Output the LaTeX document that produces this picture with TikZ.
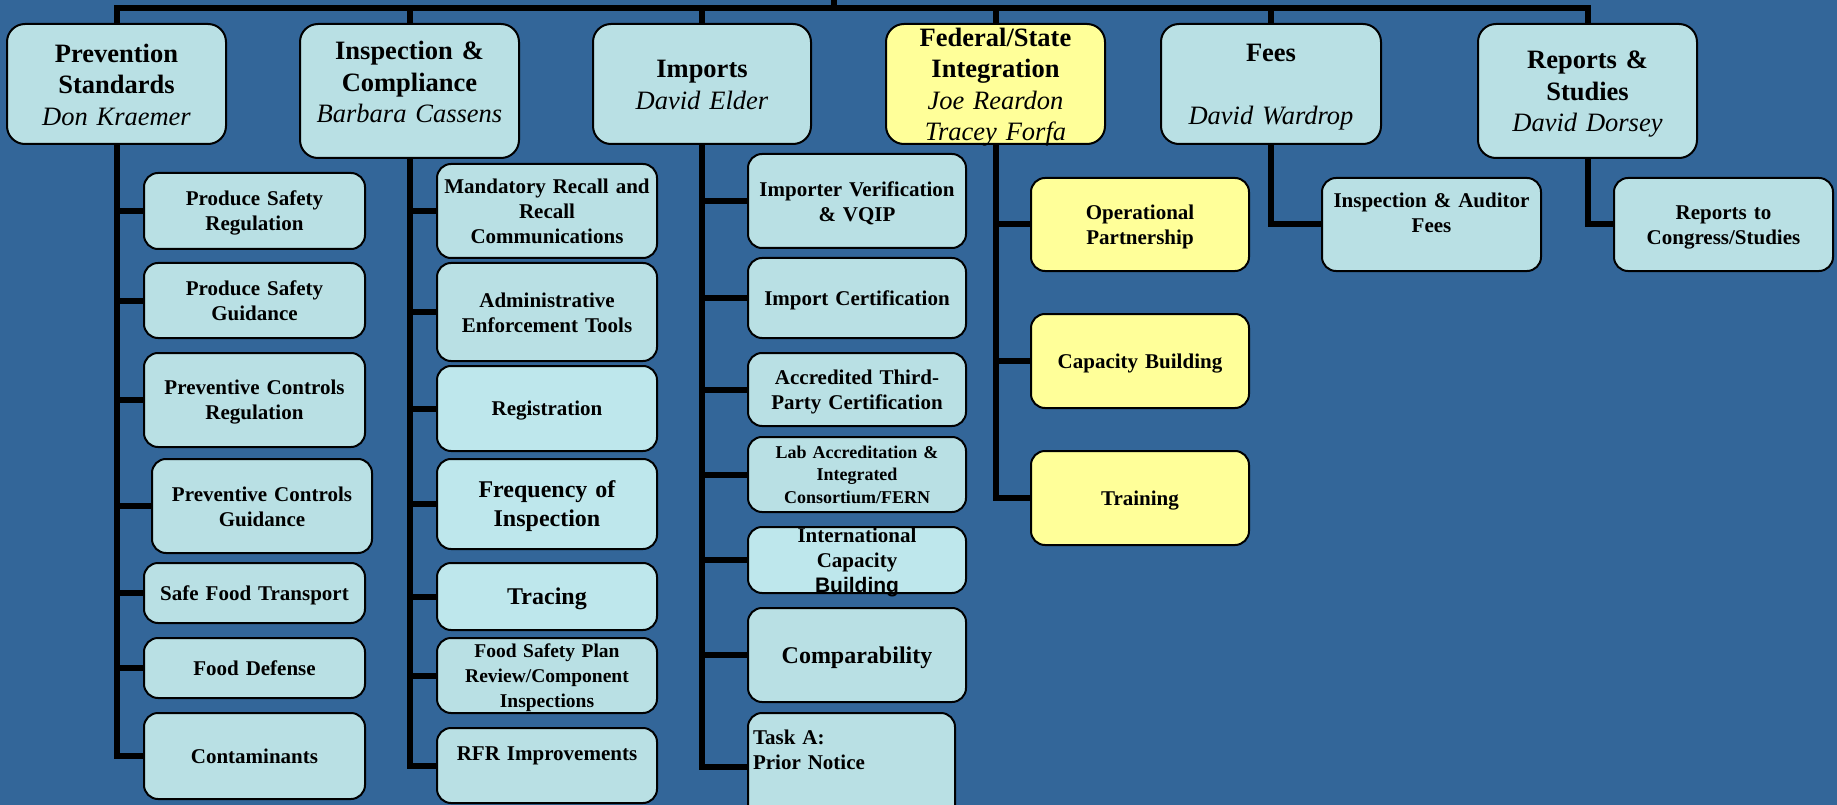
\documentclass[tikz,border=0pt]{standalone}
\usepackage{fontspec}
\setmainfont{Liberation Serif}
\newfontfamily\arialfont{Liberation Sans}
\definecolor{bgblue}{HTML}{336699}
\definecolor{boxblue}{HTML}{B9E0E4}
\definecolor{boxlite}{HTML}{BEE7EC}
\definecolor{boxyellow}{HTML}{FFFF99}

\begin{document}
\begin{tikzpicture}[x=1pt,y=-1pt,
        box/.style={draw, line width=2pt, inner sep=0pt, text width=210pt, align=center,
                        execute at begin node={\rule{0pt}{0.92em}},
                        execute at end node={\rule[-0.2em]{0pt}{0pt}}},
        head/.style={box, rounded corners=18pt, fill=boxblue,
                        font=\fontsize{26.5}{31.5}\selectfont},
        sub/.style={box, rounded corners=14pt, fill=boxblue,
                        font=\fontsize{21}{25}\selectfont\bfseries},
        big/.style={font=\fontsize{24}{29}\selectfont\bfseries},
        conn/.style={line width=6pt}]
    \fill[bgblue] (0,0) rectangle (1837,805);
    \useasboundingbox (0,0) rectangle (1837,805);

    % top row
    \node[head, minimum width=219pt, minimum height=120pt] (prev) at (116.5,84)
        {\textbf{Prevention}\\\textbf{Standards}\\\textit{Don Kraemer}};
    \node[head, minimum width=219pt, minimum height=134pt] (insp) at (409.5,91)
        {\textbf{Inspection \&}\\\textbf{Compliance}\\\textit{Barbara Cassens}\\[-13.4pt]\mbox{}};
    \node[head, minimum width=218pt, minimum height=120pt] (imp) at (702,84)
        {\textbf{Imports}\\\textit{David Elder}};
    \node[head, fill=boxyellow, minimum width=219pt, minimum height=120pt, inner ysep=-6pt] (fed) at (995.5,84)
        {\textbf{Federal/State}\\\textbf{Integration}\\\textit{Joe Reardon}\\\textit{Tracey Forfa}};
    \node[head, minimum width=220pt, minimum height=120pt] (fees) at (1271,84)
        {\textbf{Fees}\\[31.5pt]\textit{David Wardrop}};
    \node[head, minimum width=219pt, minimum height=134pt] (rep) at (1587.5,91)
        {\textbf{Reports \&}\\\textbf{Studies}\\\textit{David Dorsey}};

    % prevention standards
    \node[sub, minimum width=221pt, minimum height=76pt] (psr) at (254.5,211) {Produce Safety\\Regulation};
    \node[sub, minimum width=221pt, minimum height=75pt] (psg) at (254.5,300.5) {Produce Safety\\Guidance};
    \node[sub, minimum width=221pt, minimum height=94pt] (pcr) at (254.5,400) {Preventive Controls\\Regulation};
    \node[sub, minimum width=220pt, minimum height=94pt] (pcg) at (262,506) {Preventive Controls\\Guidance};
    \node[sub, minimum width=221pt, minimum height=60pt] (sft) at (254.5,593) {Safe Food Transport};
    \node[sub, minimum width=221pt, minimum height=60pt] (fdef) at (254.5,668) {Food Defense};
    \node[sub, minimum width=221pt, minimum height=86pt] (cont) at (254.5,756) {Contaminants};

    % inspection & compliance
    \node[sub, minimum width=220pt, minimum height=94pt] (mrc) at (547,211) {Mandatory Recall and\\Recall\\Communications};
    \node[sub, minimum width=220pt, minimum height=98pt] (aet) at (547,312) {Administrative\\Enforcement Tools};
    \node[sub, fill=boxlite, minimum width=220pt, minimum height=85pt] (reg) at (547,408.5) {Registration};
    \node[sub, big, fill=boxlite, minimum width=220pt, minimum height=90pt] (freq) at (547,504) {Frequency of\\Inspection};
    \node[sub, big, fill=boxlite, minimum width=220pt, minimum height=67pt] (trac) at (547,596.5) {Tracing};
    \node[sub, minimum width=220pt, minimum height=75pt, font=\fontsize{19.5}{25}\selectfont\bfseries] (fsp) at (547,675.5)
        {Food Safety Plan\\Review/Component\\Inspections};
    \node[sub, minimum width=220pt, minimum height=75pt] (rfr) at (547,765.5) {RFR Improvements\\\mbox{}};

    % imports
    \node[sub, minimum width=218pt, minimum height=94pt] (ivq) at (857,201) {Importer Verification\\\& VQIP};
    \node[sub, minimum width=218pt, minimum height=80pt] (icert) at (857,298) {Import Certification};
    \node[sub, minimum width=218pt, minimum height=73pt] (atp) at (857,389.5) {Accredited Third-\\Party Certification};
    \node[sub, minimum width=218pt, minimum height=75pt, font=\fontsize{18}{22.5}\selectfont\bfseries] (lab) at (857,474.5)
        {Lab Accreditation \&\\Integrated\\Consortium/FERN};
    \node[sub, fill=boxlite, minimum width=218pt, minimum height=66pt, inner ysep=-5pt] (icb) at (857,560)
        {International\\Capacity\\{\arialfont\bfseries Building}};
    \node[sub, big, minimum width=218pt, minimum height=94pt] (comp) at (857,655) {Comparability};
    \node[sub, minimum width=207pt, minimum height=107pt, text width=197pt, align=left,
          execute at begin node={}, execute at end node={}] (task) at (851.5,766.5)
        {Task A:\\Prior Notice\\[9pt]\mbox{}};

    % federal/state integration
    \node[sub, fill=boxyellow, minimum width=218pt, minimum height=93pt] (op) at (1140,224.5) {Operational\\Partnership};
    \node[sub, fill=boxyellow, minimum width=218pt, minimum height=94pt] (cap) at (1140,361) {Capacity Building};
    \node[sub, fill=boxyellow, minimum width=218pt, minimum height=94pt] (trn) at (1140,498) {Training};

    % fees, reports
    \node[sub, minimum width=219pt, minimum height=93pt] (iaf) at (1431.5,224.5) {Inspection \& Auditor\\Fees\\\mbox{}};
    \node[sub, minimum width=219pt, minimum height=93pt] (rtc) at (1723.5,224.5) {Reports to\\Congress/Studies};

    % lines
    \coordinate (bus) at (834,8.5);
    \coordinate (root) at (834,0);
    \draw[conn] (prev.north) |- (bus) -| (rep.north);
    \draw[conn] (bus) -- (root);
    \foreach \n in {insp,imp,fed,fees}
        \draw[conn] (\n.north) -- (\n.north |- bus);
    \foreach \n in {psr,psg,pcr,pcg,sft,fdef,cont}
        \draw[conn] (prev.south) |- (\n.west);
    \foreach \n in {mrc,aet,reg,freq,trac,fsp,rfr}
        \draw[conn] (insp.south) |- (\n.west);
    \foreach \n in {ivq,icert,atp,lab,icb,comp,task}
        \draw[conn] (imp.south) |- (\n.west);
    \foreach \n in {op,cap,trn}
        \draw[conn] (fed.south) |- (\n.west);
    \draw[conn] (fees.south) |- (iaf.west);
    \draw[conn] (rep.south) |- (rtc.west);
\end{tikzpicture}
\end{document}
